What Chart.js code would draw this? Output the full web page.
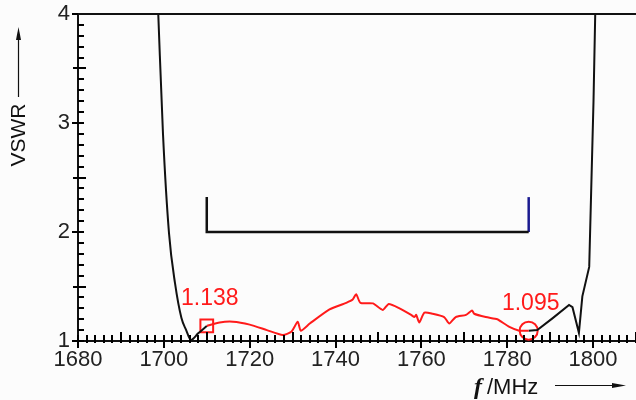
<!DOCTYPE html>
<html>
<head>
<meta charset="utf-8">
<script src="https://cdn.jsdelivr.net/npm/chart.js@4/dist/chart.umd.min.js"></script>
<style>
  html, body { margin: 0; padding: 0; background: #fcfcfc; }
  #wrap { width: 636px; height: 400px; }
</style>
</head>
<body>
<div id="wrap"><canvas id="vswrChart" width="636" height="400"></canvas></div>
<script>
// tick labels
let xTicks = [1680, 1700, 1720, 1740, 1760, 1780, 1800];
let yTicks = [1, 2, 3, 4];

// left band edge (black)
let leftFreq = [1698.7, 1699.8, 1701.2, 1702.6, 1704.1, 1705.2, 1706.3, 1708.0, 1710.0];
let leftVswr = [4.0, 2.9, 1.99, 1.53, 1.21, 1.10, 1.01, 1.07, 1.138];

// passband (red)
let midFreq = [1710.0, 1713.0, 1716.1, 1720.0, 1724.0, 1727.7, 1729.7, 1731.2, 1731.9, 1734.0, 1738.6, 1742.5, 1744.0, 1744.8, 1745.8, 1748.7, 1751.0, 1752.4, 1754.9, 1757.6, 1758.4, 1758.8, 1759.5, 1760.7, 1762.6, 1765.3, 1766.5, 1768.0, 1770.4, 1771.8, 1772.3, 1775.0, 1777.7, 1778.5, 1780.5, 1782.8, 1785.0];
let midVswr = [1.138, 1.17, 1.177, 1.15, 1.10, 1.055, 1.085, 1.177, 1.095, 1.16, 1.29, 1.35, 1.38, 1.43, 1.35, 1.345, 1.285, 1.34, 1.30, 1.24, 1.22, 1.24, 1.17, 1.26, 1.25, 1.22, 1.16, 1.22, 1.24, 1.28, 1.25, 1.22, 1.20, 1.18, 1.13, 1.095, 1.095];

// right band edge (black)
let rightFreq = [1785.0, 1787.0, 1790.6, 1794.4, 1795.2, 1796.7, 1797.5, 1799.1, 1799.5, 1800.1, 1800.5];
let rightVswr = [1.095, 1.10, 1.21, 1.33, 1.31, 1.075, 1.41, 1.68, 2.29, 3.2, 4.0];

// spec bracket
let specFreq = [1710, 1785];
let specVswr = 2.0;
let specTop = 2.32;

// marked points
let markFreq = [1710, 1785];
let markVswr = [1.138, 1.095];

let xMinorStep = 2;
let yMinorStep = 0.1;

function pts(xs, ys) {
    return xs.map((v, i) => ({ x: v, y: ys[i] }));
}

const fontName = "'Liberation Sans', Arial, sans-serif";

const axisDecor = {
    id: 'axisDecor',
    afterDraw(chart) {
        const ctx = chart.ctx;
        const x = chart.scales.x;
        const y = chart.scales.y;
        const area = chart.chartArea;
        const x0 = area.left;
        const y0 = y.getPixelForValue(y.min);

        ctx.save();
        ctx.strokeStyle = '#000';
        ctx.lineWidth = 2;
        ctx.beginPath();
        // x minor ticks
        for (let i = 0; x.min + i * xMinorStep <= x.max + 1e-6; i++) {
            let v = x.min + i * xMinorStep;
            let px = Math.round(x.getPixelForValue(v));
            let up = 6, down = 2;
            if (Math.abs(v % 20) < 1e-6) { up = 6; down = 7; }
            else if (Math.abs(v % 10) < 1e-6) { up = 9; down = 2; }
            ctx.moveTo(px, y0 - up);
            ctx.lineTo(px, y0 + down);
        }
        // y minor ticks
        for (let i = 0; y.min + i * yMinorStep <= y.max + 1e-6; i++) {
            let v = y.min + i * yMinorStep;
            let py = Math.round(y.getPixelForValue(v));
            let l = 0, r = 6;
            let frac = Math.abs(v - Math.round(v));
            if (frac < 1e-6) { l = 6; r = 6; }
            else if (Math.abs(frac - 0.5) < 1e-6) { l = 5; r = 8; }
            ctx.moveTo(x0 - l, py);
            ctx.lineTo(x0 + r, py);
        }
        ctx.stroke();

        // top frame line at max VSWR
        ctx.lineWidth = 2;
        ctx.strokeStyle = '#111';
        ctx.beginPath();
        let yt = y.getPixelForValue(y.max);
        ctx.moveTo(x0, yt);
        ctx.lineTo(area.right, yt);
        ctx.stroke();

        // marker value labels
        ctx.fillStyle = '#ff1a1a';
        ctx.font = '23px ' + fontName;
        ctx.textAlign = 'center';
        ctx.textBaseline = 'middle';
        markFreq.forEach((f, i) => {
            let px = x.getPixelForValue(f);
            let py = y.getPixelForValue(markVswr[i]);
            ctx.fillText(markVswr[i].toFixed(3), px + (i === 0 ? 3 : 2), py - 27);
        });

        // y title with arrow
        ctx.fillStyle = '#111';
        ctx.strokeStyle = '#111';
        ctx.save();
        ctx.translate(19, 135);
        ctx.rotate(-Math.PI / 2);
        ctx.font = '21px ' + fontName;
        ctx.fillText('VSWR', 0, 0);
        ctx.restore();
        ctx.lineWidth = 1.2;
        ctx.beginPath();
        ctx.moveTo(18.5, 97);
        ctx.lineTo(18.5, 32);
        ctx.stroke();
        ctx.beginPath();
        ctx.moveTo(18.5, 27);
        ctx.lineTo(16, 40);
        ctx.lineTo(21, 40);
        ctx.closePath();
        ctx.fill();

        // x title with arrow
        ctx.textAlign = 'left';
        ctx.textBaseline = 'alphabetic';
        ctx.font = 'italic bold 24px "Liberation Serif", serif';
        ctx.fillText('f', 474, 394);
        ctx.font = '22px ' + fontName;
        ctx.fillText('/MHz', 487, 394);
        ctx.beginPath();
        ctx.moveTo(555, 385.5);
        ctx.lineTo(615, 385.5);
        ctx.stroke();
        ctx.beginPath();
        ctx.moveTo(626, 385.5);
        ctx.lineTo(612, 383);
        ctx.lineTo(612, 388);
        ctx.closePath();
        ctx.fill();
        ctx.restore();
    }
};

let ctx = document.getElementById('vswrChart').getContext('2d');

let chart = new Chart(ctx, {
    type: 'scatter',
    data: {
        datasets: [
            {
                data: pts(leftFreq, leftVswr),
                showLine: true,
                borderColor: '#111',
                borderWidth: 2,
                pointRadius: 0,
                tension: 0.3,
                cubicInterpolationMode: 'monotone'
            },
            {
                data: pts(midFreq, midVswr),
                showLine: true,
                borderColor: '#ff1a1a',
                borderWidth: 2,
                pointRadius: 0,
                tension: 0.2
            },
            {
                data: pts(rightFreq, rightVswr),
                showLine: true,
                borderColor: '#111',
                borderWidth: 2,
                pointRadius: 0,
                tension: 0
            },
            {
                data: [
                    { x: specFreq[0], y: specTop },
                    { x: specFreq[0], y: specVswr },
                    { x: specFreq[1], y: specVswr }
                ],
                showLine: true,
                borderColor: '#111',
                borderWidth: 2.5,
                pointRadius: 0,
                tension: 0
            },
            {
                data: [
                    { x: specFreq[1], y: specVswr },
                    { x: specFreq[1], y: specTop }
                ],
                showLine: true,
                borderColor: '#1a1a90',
                borderWidth: 2.5,
                pointRadius: 0,
                tension: 0
            },
            {
                data: [{ x: markFreq[0], y: markVswr[0] }],
                pointStyle: 'rect',
                pointRadius: 9,
                pointBorderColor: '#ff1a1a',
                pointBackgroundColor: 'rgba(0,0,0,0)',
                pointBorderWidth: 2
            },
            {
                data: [{ x: markFreq[1], y: markVswr[1] }],
                pointStyle: 'circle',
                pointRadius: 9,
                pointBorderColor: '#ff1a1a',
                pointBackgroundColor: 'rgba(0,0,0,0)',
                pointBorderWidth: 2
            }
        ]
    },
    options: {
        responsive: false,
        animation: false,
        layout: { autoPadding: false, padding: { top: 14, right: 0, left: 0, bottom: 0 } },
        plugins: {
            legend: { display: false },
            tooltip: { enabled: false }
        },
        scales: {
            x: {
                type: 'linear',
                min: 1680,
                max: 1810,
                afterBuildTicks: s => { s.ticks = xTicks.map(v => ({ value: v })); },
                afterFit: s => { s.height = 59; s.paddingLeft = 0; s.paddingRight = 0; },
                grid: { display: false, drawTicks: false },
                border: { display: true, color: '#111', width: 2 },
                ticks: {
                    font: { size: 22, family: fontName },
                    color: '#222',
                    padding: 6,
                    maxRotation: 0,
                    callback: v => String(v)
                }
            },
            y: {
                type: 'linear',
                min: 1,
                max: 4,
                afterBuildTicks: s => { s.ticks = yTicks.map(v => ({ value: v })); },
                afterFit: s => { s.width = 78; s.paddingTop = 0; s.paddingBottom = 0; },
                grid: { display: false, drawTicks: false },
                border: { display: true, color: '#111', width: 2 },
                ticks: {
                    font: { size: 22, family: fontName },
                    color: '#222',
                    padding: 8,
                    callback: v => String(v)
                }
            }
        }
    },
    plugins: [axisDecor]
});
</script>
</body>
</html>
